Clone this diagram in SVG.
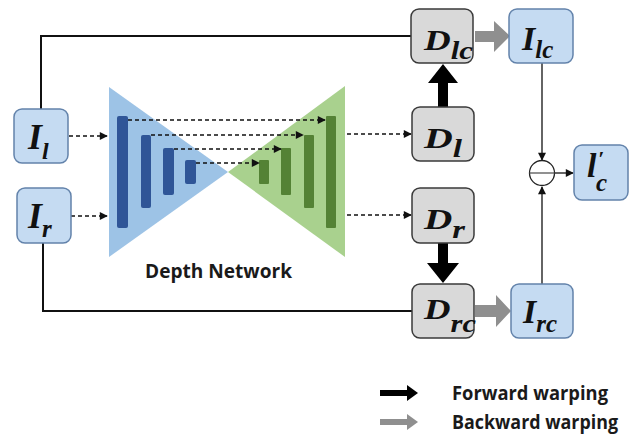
<svg xmlns="http://www.w3.org/2000/svg" width="637" height="441" viewBox="0 0 637 441">
  <defs>
    <style>
      .img { fill: #c5dbf2; stroke: #6383ab; stroke-width: 1.5; }
      .dep { fill: #d9d9d9; stroke: #3a3a3a; stroke-width: 1.5; }
      .math { font-family: "Liberation Serif", "DejaVu Serif", serif; font-weight: bold; font-style: italic; fill: #111; }
      .lbl { font-family: "Open Sans", "Noto Sans", "Liberation Sans", sans-serif; font-weight: 700; fill: #1a1a1a; }
      .wire { fill: none; stroke: #111; stroke-width: 2; }
      .thin { fill: none; stroke: #111; stroke-width: 1.3; }
      .dash { fill: none; stroke: #111; stroke-width: 1.4; stroke-dasharray: 4 3; }
      .enc { fill: #2f5597; }
      .dec { fill: #548235; }
      .fwd { fill: #000; }
      .bwd { fill: #8f8f8f; }
    </style>
    <marker id="tip" viewBox="0 0 10 10" refX="9" refY="5" markerWidth="9" markerHeight="8" markerUnits="userSpaceOnUse" orient="auto">
      <path d="M0,0 L10,5 L0,10 Z" fill="#111"/>
    </marker>
  </defs>

  <!-- depth network: encoder / decoder -->
  <g id="depth-network">
    <polygon points="109,87 109,257 228,172" fill="#9dc3e6"/>
    <polygon points="228,172 345,86 345,257" fill="#a9d18e"/>
    <rect class="enc" x="117" y="116" width="11" height="112" rx="2"/>
    <rect class="enc" x="141" y="135" width="10" height="73" rx="2"/>
    <rect class="enc" x="163" y="148" width="11" height="47" rx="2"/>
    <rect class="enc" x="185" y="160" width="11" height="24" rx="2"/>
    <rect class="dec" x="259" y="160" width="10" height="24" rx="1"/>
    <rect class="dec" x="281" y="148" width="10" height="47" rx="1"/>
    <rect class="dec" x="304" y="135" width="10" height="73" rx="1"/>
    <rect class="dec" x="326" y="116" width="10" height="112" rx="1"/>
    <text class="lbl" x="145" y="278" font-size="19" textLength="147" lengthAdjust="spacingAndGlyphs">Depth Network</text>
  </g>

  <!-- connectors -->
  <g id="connectors">
    <!-- skip connections -->
    <path class="dash" d="M128,120 H325" marker-end="url(#tip)"/>
    <path class="dash" d="M151,135 H303" marker-end="url(#tip)"/>
    <path class="dash" d="M174,149 H281" marker-end="url(#tip)"/>
    <path class="dash" d="M196,163 H259" marker-end="url(#tip)"/>
    <!-- inputs into the network -->
    <path class="dash" d="M69,136 H107" marker-end="url(#tip)"/>
    <path class="dash" d="M71,216 H107" marker-end="url(#tip)"/>
    <!-- network outputs -->
    <path class="dash" d="M347,134 H411" marker-end="url(#tip)"/>
    <path class="dash" d="M347,215 H411" marker-end="url(#tip)"/>
    <!-- image bypass lines -->
    <path class="wire" d="M41,109 V36 H411"/>
    <path class="wire" d="M43,243 V311 H412"/>
    <!-- forward warping -->
    <path class="fwd" d="M438,107 V83 H428 L443,64 L458,83 H448 V107 Z"/>
    <path class="fwd" d="M438,243 V263 H427 L443,283 L459,263 H448 V243 Z"/>
    <!-- backward warping -->
    <path class="bwd" d="M475,31 H494 V21 L510,36 L494,52 V42 H475 Z"/>
    <path class="bwd" d="M475,305 H496 V295 L511,311 L496,327 V317 H475 Z"/>
    <!-- fusion -->
    <path class="thin" d="M542,63 V160" marker-end="url(#tip)"/>
    <path class="thin" d="M542,284 V187" marker-end="url(#tip)"/>
    <path class="thin" d="M555,173 H573" marker-end="url(#tip)"/>
  </g>

  <g id="sum">
    <circle cx="542" cy="173" r="12.5" fill="#fff" stroke="#222" stroke-width="1.3"/>
    <path d="M529.5,173 H554.5" stroke="#555" stroke-width="1.3"/>
  </g>

  <g id="I_l">
    <rect class="img" x="14" y="109" width="54" height="54" rx="8"/>
    <text class="math" x="28" y="149" font-size="36">I<tspan font-size="24" dy="10">l</tspan></text>
  </g>
  <g id="I_r">
    <rect class="img" x="17" y="188" width="54" height="55" rx="8"/>
    <text class="math" x="28" y="228" font-size="36">I<tspan font-size="25" dy="9">r</tspan></text>
  </g>

  <g id="D_lc">
    <rect class="dep" x="411" y="9" width="62" height="54" rx="8"/>
    <text class="math" x="424" y="50" font-size="30" textLength="49" lengthAdjust="spacingAndGlyphs">D<tspan font-size="25" dy="9">lc</tspan></text>
  </g>
  <g id="D_l">
    <rect class="dep" x="412" y="107" width="62" height="54" rx="8"/>
    <text class="math" x="424" y="148" font-size="30" textLength="38" lengthAdjust="spacingAndGlyphs">D<tspan font-size="25" dy="9">l</tspan></text>
  </g>
  <g id="D_r">
    <rect class="dep" x="412" y="188" width="62" height="55" rx="8"/>
    <text class="math" x="424" y="229" font-size="30" textLength="41" lengthAdjust="spacingAndGlyphs">D<tspan font-size="25" dy="9">r</tspan></text>
  </g>
  <g id="D_rc">
    <rect class="dep" x="412" y="284" width="62" height="54" rx="8"/>
    <text class="math" x="424" y="319" font-size="30" textLength="52" lengthAdjust="spacingAndGlyphs">D<tspan font-size="25" dy="13">rc</tspan></text>
  </g>

  <g id="I_lc">
    <rect class="img" x="509" y="9" width="64" height="54" rx="8"/>
    <text class="math" x="522" y="50" font-size="34">I<tspan font-size="25" dy="8">lc</tspan></text>
  </g>
  <g id="I_rc">
    <rect class="img" x="511" y="284" width="62" height="54" rx="8"/>
    <text class="math" x="523" y="323" font-size="34">I<tspan font-size="25" dy="9">rc</tspan></text>
  </g>
  <g id="I_c">
    <rect class="img" x="574" y="145" width="54" height="55" rx="8"/>
    <text class="math" x="587" y="177" font-size="34">l</text>
    <text class="math" x="598" y="166" font-size="22">′</text>
    <text class="math" x="596" y="191" font-size="25">c</text>
  </g>

  <!-- legend -->
  <g id="legend">
    <path class="fwd" d="M380,390 H407 V385 L418,393 L407,401 V396 H380 Z"/>
    <path class="bwd" d="M380,419 H407 V414 L418,422 L407,430 V425 H380 Z"/>
    <text class="lbl" x="452" y="400" font-size="20" textLength="156" lengthAdjust="spacingAndGlyphs">Forward warping</text>
    <text class="lbl" x="452" y="429" font-size="20" textLength="166" lengthAdjust="spacingAndGlyphs">Backward warping</text>
  </g>
</svg>
